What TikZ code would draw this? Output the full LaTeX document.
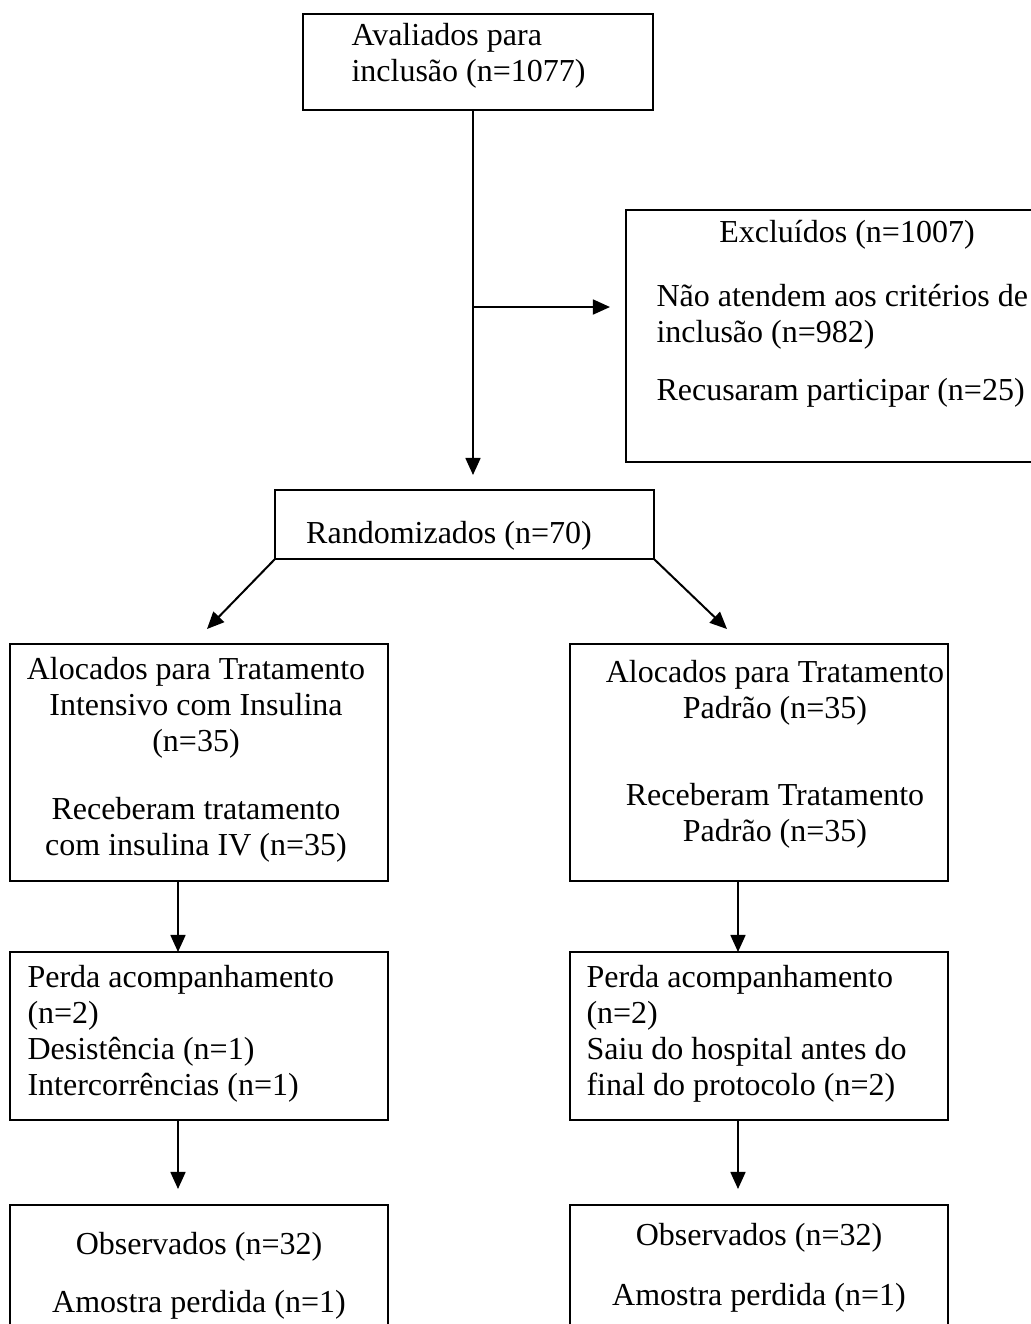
\documentclass[tikz,border=0pt]{standalone}
\usepackage{fontspec}
\setmainfont{Liberation Serif}
\usetikzlibrary{arrows.meta}

\begin{document}
\begin{tikzpicture}[x=0.375pt,y=-0.375pt,
    box/.style={draw,line width=0.9pt,rectangle,anchor=north west,inner sep=0pt,outer sep=0pt},
    txt/.style={inner sep=0pt,font=\fontsize{12pt}{13.5pt}\selectfont},
    arr/.style={-{Triangle[width=5.6pt,length=6.4pt]},line width=0.75pt}]
            \useasboundingbox (0,0) rectangle (1031,1324);
            \clip (0,0) rectangle (1031,1324);

            \node (aval) at (303,14) [box,minimum width=131.25pt,minimum height=36pt] {};
            \node[txt,anchor=base west,align=left] (avalt) at (351,81) {Avaliados para\\inclusão (n=1077)};

            \node (excl) at (626,210) [box,minimum width=157.5pt,minimum height=94.5pt] {};
            \node[txt,anchor=base] (exclt) at (847,242) {Excluídos (n=1007)};
            \node[txt,anchor=base west,align=left] (exclm) at (656,400) {Não atendem aos critérios de\\inclusão (n=982)\\[8.25pt]Recusaram participar (n=25)};

            \node (rand) at (275,490) [box,minimum width=142.125pt,minimum height=25.875pt] {};
            \node[txt,anchor=base] (randt) at (449,543) {Randomizados (n=70)};

            \node (allocL) at (10,644) [box,minimum width=141.75pt,minimum height=88.875pt] {};
            \node[txt,anchor=base,align=center] (allocLt) at (196,855) {Alocados para Tratamento\\Intensivo com Insulina\\(n=35)\\[12pt]Receberam tratamento\\com insulina IV (n=35)};
            \node (allocR) at (570,644) [box,minimum width=141.75pt,minimum height=88.875pt] {};
            \node[txt,anchor=base,align=center] (allocRt) at (775,841) {Alocados para Tratamento\\Padrão (n=35)\\[19pt]Receberam Tratamento\\Padrão (n=35)};

            \node (perdaL) at (10,952) [box,minimum width=141.75pt,minimum height=63pt] {};
            \node[txt,anchor=base west,align=left] (perdaLt) at (27,1095) {Perda acompanhamento\\(n=2)\\Desistência (n=1)\\Intercorrências (n=1)};
            \node (perdaR) at (570,952) [box,minimum width=141.75pt,minimum height=63pt] {};
            \node[txt,anchor=base west,align=left] (perdaRt) at (586,1095) {Perda acompanhamento\\(n=2)\\Saiu do hospital antes do\\final do protocolo (n=2)};

            \node (obsL) at (10,1205) [box,minimum width=141.75pt,minimum height=50.625pt] {};
            \node[txt,anchor=base,align=center] (obsLt) at (199,1312) {Observados (n=32)\\[8.25pt]Amostra perdida (n=1)};
            \node (obsR) at (570,1205) [box,minimum width=141.75pt,minimum height=50.625pt] {};
            \node[txt,anchor=base,align=center] (obsRt) at (759,1305) {Observados (n=32)\\[9pt]Amostra perdida (n=1)};

            \coordinate (split) at (473,307);
            \coordinate (randin) at (473,475);
            \coordinate (exclin) at (610,307);
            \coordinate (allocLin) at (207,629);
            \coordinate (allocRin) at (727,629);
            \coordinate (colL) at (178,0);
            \coordinate (colR) at (738,0);
            \coordinate (obsLin) at (178,1189);
            \coordinate (obsRin) at (738,1189);

            \draw[arr] (aval.south -| split) -- (randin);
            \draw[arr] (split) -- (exclin);
            \draw[arr] (rand.south west) -- (allocLin);
            \draw[arr] (rand.south east) -- (allocRin);
            \draw[arr] (allocL.south -| colL) -- (perdaL.north -| colL);
            \draw[arr] (allocR.south -| colR) -- (perdaR.north -| colR);
            \draw[arr] (perdaL.south -| colL) -- (obsLin);
            \draw[arr] (perdaR.south -| colR) -- (obsRin);
        \end{tikzpicture}
\end{document}
